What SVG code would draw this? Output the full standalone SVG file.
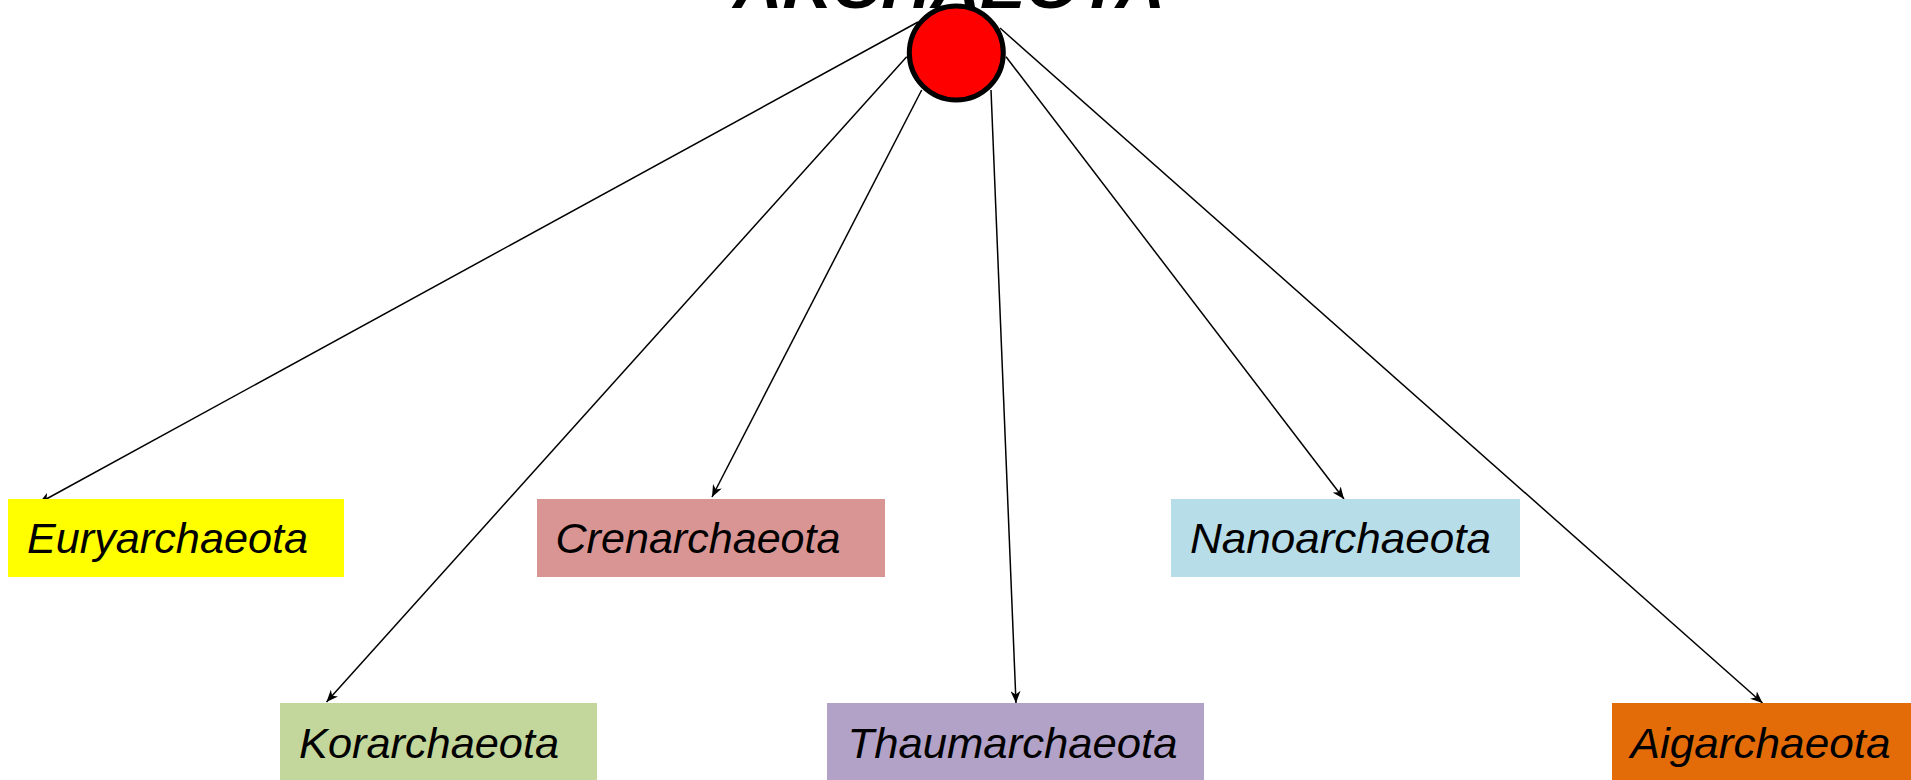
<svg xmlns="http://www.w3.org/2000/svg" width="1911" height="780" viewBox="0 0 1911 780">
  <style>
    .lbl { font-family: "Liberation Sans", Arial, sans-serif; font-style: italic; font-size: 42px; fill: #000; }
    .title { font-family: "Liberation Sans", Arial, sans-serif; font-style: italic; font-weight: bold; font-size: 62px; fill: #000; }
    .conn { stroke: #000; stroke-width: 1.5; fill: none; marker-end: url(#arr); }
  </style>
  <defs>
    <marker id="arr" viewBox="0 0 12 10" refX="12" refY="5" markerWidth="12" markerHeight="10" markerUnits="userSpaceOnUse" orient="auto">
      <path d="M0,0 L12,5 L0,10 L3.5,5 z" fill="#000"/>
    </marker>
  </defs>
  <rect width="1911" height="780" fill="#fff"/>

  <g id="title">
    <text class="title" x="733" y="8" textLength="432" lengthAdjust="spacingAndGlyphs">ARCHAEOTA</text>
  </g>

  <g id="connectors">
    <line class="conn" x1="918" y1="22" x2="39" y2="503"/>
    <line class="conn" x1="906.7" y1="56.7" x2="326.5" y2="702"/>
    <line class="conn" x1="921.7" y1="90" x2="712" y2="497"/>
    <line class="conn" x1="991" y1="90" x2="1016" y2="703"/>
    <line class="conn" x1="1006" y1="56.7" x2="1344" y2="499"/>
    <line class="conn" x1="1000" y1="28" x2="1762.5" y2="703"/>
  </g>

  <g id="root">
    <circle cx="956.3" cy="53" r="47" fill="#ff0000" stroke="#000" stroke-width="5"/>
  </g>

  <g id="euryarchaeota">
    <rect x="8" y="499" width="336" height="78" fill="#ffff00"/>
    <text class="lbl" x="27" y="553" textLength="281" lengthAdjust="spacingAndGlyphs">Euryarchaeota</text>
  </g>
  <g id="crenarchaeota">
    <rect x="537" y="499" width="348" height="78" fill="#d99594"/>
    <text class="lbl" x="555.5" y="553" textLength="285" lengthAdjust="spacingAndGlyphs">Crenarchaeota</text>
  </g>
  <g id="nanoarchaeota">
    <rect x="1171" y="499" width="349" height="78" fill="#b7dde8"/>
    <text class="lbl" x="1190" y="553" textLength="301" lengthAdjust="spacingAndGlyphs">Nanoarchaeota</text>
  </g>
  <g id="korarchaeota">
    <rect x="280" y="703" width="317" height="77" fill="#c3d69b"/>
    <text class="lbl" x="299" y="758" textLength="260" lengthAdjust="spacingAndGlyphs">Korarchaeota</text>
  </g>
  <g id="thaumarchaeota">
    <rect x="827" y="703" width="377" height="77" fill="#b2a2c7"/>
    <text class="lbl" x="847.5" y="758" textLength="330" lengthAdjust="spacingAndGlyphs">Thaumarchaeota</text>
  </g>
  <g id="aigarchaeota">
    <rect x="1612" y="703" width="299" height="77" fill="#e36c09"/>
    <text class="lbl" x="1630.5" y="758" textLength="260" lengthAdjust="spacingAndGlyphs">Aigarchaeota</text>
  </g>
</svg>
